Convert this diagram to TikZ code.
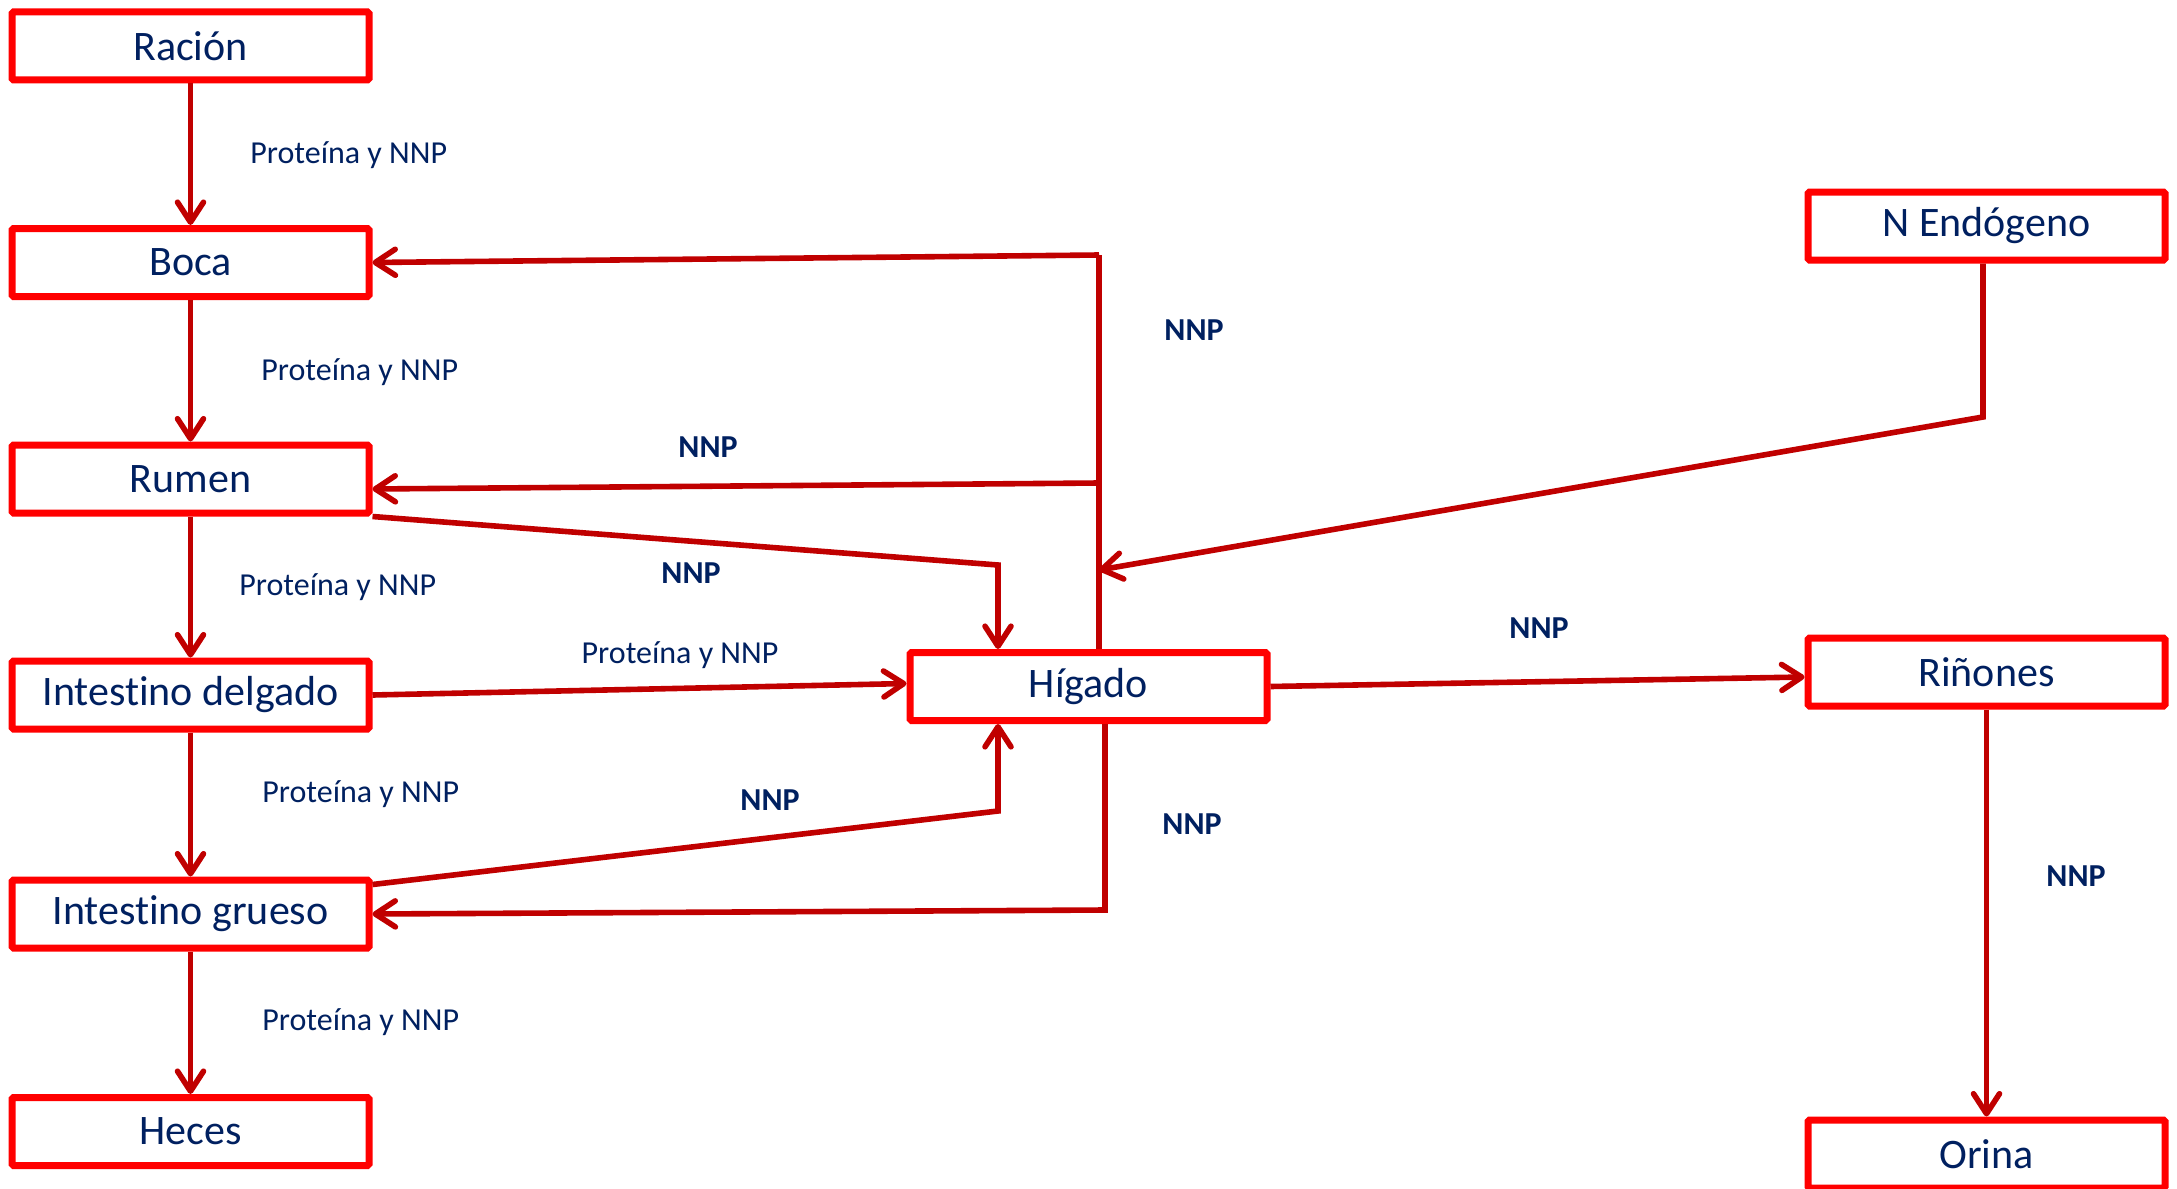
\documentclass[tikz,border=0pt]{standalone}
\usepackage{fontspec}
\setmainfont{Carlito}[Ligatures=NoCommon]
\usetikzlibrary{arrows.meta,calc}
\definecolor{boxred}{HTML}{FF0000}
\definecolor{linkred}{HTML}{C00000}
\definecolor{navy}{HTML}{002060}

\begin{document}
\begin{tikzpicture}[x=0.5pt,y=-0.5pt,
  organ/.style={draw=boxred, line width=3.5pt, fill=white, minimum width=178.5pt,
    minimum height=34pt, inner sep=0pt, rounded corners=0.8pt, text=navy,
    font=\fontsize{21}{25}\selectfont},
  flow/.style={draw=linkred, line width=2.8pt},
  tip/.style={flow, -{Straight Barb[length=10pt,width=13pt,round]}},
  lab/.style={text=navy, font=\fontsize{16}{19}\selectfont, inner sep=0pt},
  nnp/.style={text=navy, font=\fontsize{16}{19}\selectfont\bfseries, inner sep=0pt}]

\useasboundingbox (0,0) rectangle (2177,1188);

% organ boxes
\node[organ] (rac)   at (190.5,46)    {Ración};
\node[organ] (boca)  at (190.5,262.5) {Boca};
\node[organ] (rumen) at (190.5,479)   {Rumen};
\node[organ] (idel)  at (190.5,695)   {Intestino delgado};
\node[organ] (igru)  at (190.5,914)   {Intestino grueso};
\node[organ] (heces) at (190.5,1131.5){Heces};
\node[organ] (hig)   at (1088.5,686.5){Hígado};
\node[organ] (nendo) at (1986.5,226)  {N Endógeno};
\node[organ] (rin)   at (1986.5,672)  {Riñones};
\node[organ] (orina) at (1986.5,1154) {Orina};

% digestive tract, top to bottom
\draw[tip] (rac.south)   -- (boca.north);
\draw[tip] (boca.south)  -- (rumen.north);
\draw[tip] (rumen.south) -- (idel.north);
\draw[tip] (idel.south)  -- (igru.north);
\draw[tip] (igru.south)  -- (heces.north);

\node[lab, anchor=west] (l1) at (250,155) {Proteína y NNP};
\node[lab, anchor=west] (l2) at (261,372) {Proteína y NNP};
\node[lab, anchor=west] (l3) at (239,587) {Proteína y NNP};
\node[lab, anchor=west] (l4) at (262,794) {Proteína y NNP};
\node[lab, anchor=west] (l5) at (262,1022) {Proteína y NNP};

% recycling trunk from the liver up to mouth and rumen
\coordinate (tTop) at (1099,255);
\coordinate (tRum) at (1099,483);
\draw[flow] (hig.north -| tTop) -- (tTop);
\draw[tip] (tTop) -- (boca.east);
\draw[tip] (tRum) -- ($(rumen.east)+(0,10)$);
\node[nnp] (n1) at (1194,330) {NNP};
\node[nnp] (n2) at (708,447) {NNP};

% rumen to liver
\coordinate (rBend) at (998,565);
\draw[tip] (rumen.south east) -- (rBend) -- (rBend |- hig.north);
\node[nnp] (n3) at (691,573) {NNP};

% endogenous N into the trunk
\coordinate (nBend) at (1983,417);
\coordinate (nHit) at (1099,570);
\draw[tip] (nendo.south -| nBend) -- (nBend) -- (nHit);

% small intestine to liver
\draw[tip] (idel.east) -- ($(hig.west)+(0,-3)$);
\node[lab] (l6) at (680,655) {Proteína y NNP};

% large intestine to liver
\coordinate (gBend) at (998,811);
\draw[tip] ($(igru.north east)+(0,8)$) -- (gBend) -- (gBend |- hig.south);
\node[nnp] (n4) at (770,800) {NNP};

% liver back to large intestine
\coordinate (bBend) at (1105,910);
\draw[tip] (hig.south -| bBend) -- (bBend) -- (igru.east);
\node[nnp] (n5) at (1192,824) {NNP};

% liver to kidneys to urine
\draw[tip] (hig.east) -- ($(rin.west)+(0,5)$);
\node[nnp] (n6) at (1539,628) {NNP};
\draw[tip] (rin.south) -- (orina.north);
\node[nnp] (n7) at (2076,876) {NNP};
\end{tikzpicture}
\end{document}
